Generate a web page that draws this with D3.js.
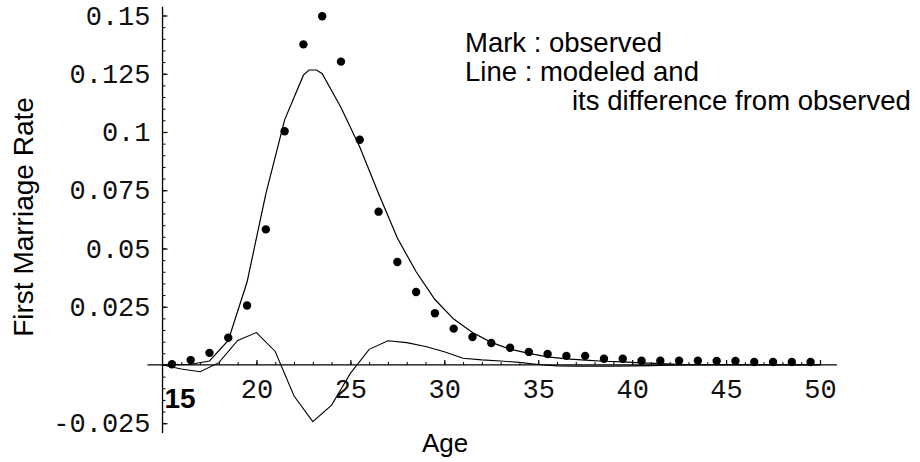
<!DOCTYPE html>
<html>
<head>
<meta charset="utf-8">
<script src="https://cdn.jsdelivr.net/npm/d3@7"></script>
<style>
  html, body { margin: 0; padding: 0; background: #fff; }
  svg { display: block; }
</style>
</head>
<body>
<div id="chart"></div>
<script>
// ---- data ----
const obsAges = [15.5,16.5,17.5,18.5,19.5,20.5,21.5,22.5,23.5,24.5,25.5,26.5,27.5,28.5,29.5,30.5,31.5,32.5,33.5,34.5,
                 35.5,36.5,37.5,38.5,39.5,40.5,41.5,42.5,43.5,44.5,45.5,46.5,47.5,48.5,49.5];
const observed = [0.0003,0.0021,0.0052,0.0117,0.0255,0.0582,0.1003,0.1376,0.1497,0.1302,0.0967,0.0658,0.0442,0.0313,0.0222,0.0156,0.0120,0.0094,0.0074,0.0056,
                  0.0047,0.0039,0.0039,0.0027,0.0027,0.0018,0.0018,0.0018,0.0018,0.0017,0.0017,0.0013,0.0013,0.0013,0.0013];
const modelAges = [15,15.5,16.5,17.5,18.5,19.5,20.5,21.5,22.5,22.8,23.2,23.5,24.5,25.5,26.5,27.5,28.5,29.5,30.5,31.5,32.5,33.5,34.5,
                   35.5,36.5,37.5,38.5,39.5,40.5,41.5,42.5,43.5,44.5,45.5,46.5,47.5,48.5,49.5,50];
const modeled = [0.0000,0.0001,0.0003,0.0017,0.0105,0.0356,0.0734,0.1052,0.1244,0.1266,0.1266,0.1250,0.1105,0.0936,0.0736,0.0545,0.0400,0.0281,0.0197,0.0139,0.0097,0.0068,0.0050,
                 0.0035,0.0026,0.0021,0.0016,0.0013,0.0009,0.0006,0.0003,0.0002,0.0002,0.0002,0.0002,0.0002,0.0002,0.0002,0.0002];
const diffAges = [15,16,17,18,19,20,21,22,23,24,25,26,27,28,29,30,31,32,33,34,35,36,37,38,39,40,41,42,43,44,45,46,47,48,49,50];
const difference = [0.0000,-0.0017,-0.0029,0.0010,0.0105,0.0139,0.0058,-0.0133,-0.0243,-0.0172,-0.0036,0.0067,0.0104,0.0096,0.0079,0.0057,0.0029,0.0022,0.0017,0.0011,
                    0.0002,-0.0004,-0.0005,-0.0005,-0.0005,-0.0004,-0.0003,-0.0001,0,0,0,0,0,0,0,0];
const xTickValues = [20,25,30,35,40,45,50];
const xTickLabels = ["20","25","30","35","40","45","50"];
const yTickValues = [-0.025,0.025,0.05,0.075,0.1,0.125,0.15];
const yTickLabels = ["-0.025","0.025","0.05","0.075","0.1","0.125","0.15"];
const originLabel = "15";
const xTitle = "Age";
const yTitle = "First Marriage Rate";
const legendLines = ["Mark : observed", "Line : modeled and", "its difference from observed"];

// ---- layout ----
const W = 920, H = 462;
const svg = d3.select("#chart").append("svg").attr("width", W).attr("height", H);

const x = d3.scaleLinear().domain([14.2, 50.9]).range([147.5, 836.9]);
const y = d3.scaleLinear().domain([-0.0292, 0.1538]).range([433, 6.65]);

const mono = "'Liberation Mono', 'DejaVu Sans Mono', monospace";
const sans = "'Liberation Sans', Arial, sans-serif";

const x0 = x(15), y0 = y(0);

// y axis (minor ticks)
const yMinor = d3.range(-25, 151, 5).map(v => v / 1000);
svg.append("g").attr("transform", `translate(${x0},0)`)
  .call(d3.axisLeft(y).tickValues(yMinor).tickSize(-3).tickFormat(""))
  .call(g => g.select(".domain").remove())
  .call(g => g.selectAll("line").attr("stroke", "#000").attr("stroke-width", 1));

// y axis (major + labels)
svg.append("g").attr("transform", `translate(${x0},0)`)
  .call(d3.axisLeft(y).tickValues(yTickValues).tickSize(-5).tickPadding(12)
        .tickFormat((d, i) => yTickLabels[i]))
  .call(g => g.select(".domain").remove())
  .call(g => g.selectAll("line").attr("stroke", "#000").attr("stroke-width", 1.2))
  .call(g => g.selectAll("text").attr("font-family", mono).attr("font-size", 27).attr("fill", "#111"));

// y axis line
svg.append("line").attr("x1", x0).attr("x2", x0).attr("y1", y.range()[0]).attr("y2", y.range()[1])
  .attr("stroke", "#000").attr("stroke-width", 1.3);

// x axis minor ticks
const xMinor = d3.range(16, 51, 1);
svg.append("g").attr("transform", `translate(0,${y0})`)
  .call(d3.axisBottom(x).tickValues(xMinor).tickSize(-3).tickFormat(""))
  .call(g => g.select(".domain").remove())
  .call(g => g.selectAll("line").attr("stroke", "#000").attr("stroke-width", 1));

// x axis major + labels
svg.append("g").attr("transform", `translate(0,${y0})`)
  .call(d3.axisBottom(x).tickValues(xTickValues).tickSize(-5).tickPadding(14)
        .tickFormat((d, i) => xTickLabels[i]))
  .call(g => g.select(".domain").remove())
  .call(g => g.selectAll("line").attr("stroke", "#000").attr("stroke-width", 1.2))
  .call(g => g.selectAll("text").attr("font-family", mono).attr("font-size", 27).attr("fill", "#111"));

// x axis line
svg.append("line").attr("x1", x.range()[0]).attr("x2", x.range()[1]).attr("y1", y0).attr("y2", y0)
  .attr("stroke", "#000").attr("stroke-width", 1.3);

// origin label "15"
svg.append("text").attr("x", x0 + 2).attr("y", y0 + 43)
  .attr("font-family", sans).attr("font-size", 28).attr("font-weight", "bold").attr("fill", "#000")
  .text(originLabel);

// lines
const line = d3.line().x(d => x(d[0])).y(d => y(d[1]));
svg.append("path").datum(modelAges.map((a, i) => [a, modeled[i]]))
  .attr("d", line).attr("fill", "none").attr("stroke", "#000").attr("stroke-width", 1.2);
svg.append("path").datum(diffAges.map((a, i) => [a, difference[i]]))
  .attr("d", line).attr("fill", "none").attr("stroke", "#000").attr("stroke-width", 1.1);

// observed dots
svg.append("g").selectAll("circle").data(obsAges.map((a, i) => [a, observed[i]]))
  .join("circle").attr("cx", d => x(d[0])).attr("cy", d => y(d[1])).attr("r", 4.2).attr("fill", "#000");

// titles
svg.append("text").attr("x", 422).attr("y", 452)
  .attr("font-family", sans).attr("font-size", 26).attr("fill", "#000").text(xTitle);
svg.append("text").attr("transform", "translate(33,217) rotate(-90)").attr("text-anchor", "middle")
  .attr("font-family", sans).attr("font-size", 28).attr("fill", "#000").text(yTitle);

// legend text
const legX = [465, 465, 572], legY = [52, 81, 110];
svg.append("g").selectAll("text").data(legendLines).join("text")
  .attr("x", (d, i) => legX[i]).attr("y", (d, i) => legY[i])
  .attr("font-family", sans).attr("font-size", 27.5).attr("fill", "#000").text(d => d);
</script>
</body>
</html>
